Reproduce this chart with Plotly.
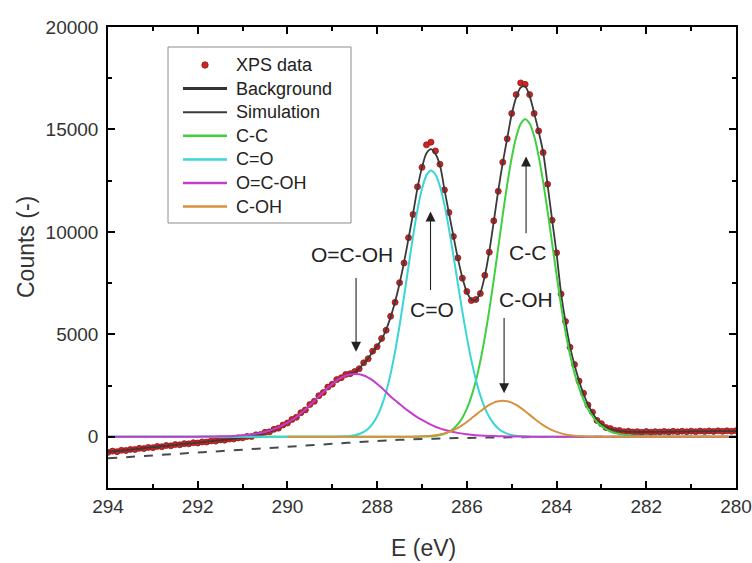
import numpy as np
import plotly.graph_objects as go

# ---------------- data ----------------
E_START, E_STEP = 294.0, 0.1

xps_data = [
    -760, -700, -725, -660, -670, -615, -620, -565, -575, -520,
    -530, -470, -485, -425, -440, -380, -390, -335, -345, -290,
    -305, -250, -258, -200, -212, -152, -165, -110, -108, -55,
    -52, 15, 10, 95, 110, 215, 240, 365, 420, 575,
    670, 845, 950, 1175, 1310, 1575, 1730, 2005, 2160, 2425,
    2565, 2790, 2880, 3045, 3080, 3185, 3320, 3610, 3810, 4180,
    4400, 4800, 5200, 5880, 6560, 7520, 8480, 9720, 10850, 12200,
    13150, 14250, 14380, 13950, 13300, 12050, 10950, 9780, 8730, 7740,
    7090, 6650, 6700, 6990, 7880, 9010, 10540, 11980, 13400, 14540,
    15780, 16700, 17270, 17200, 16700, 15780, 14930, 13870, 12330, 10570,
    8980, 6970, 5630, 4370, 3530, 2720, 2130, 1550, 1200, 800,
    640, 450, 400, 310, 310, 250, 270, 230, 250, 220,
    255, 225, 250, 230, 260, 235, 265, 240, 270, 245,
    275, 250, 280, 255, 285, 260, 290, 265, 290, 270,
    295,
]

simulation = [
    -740, -717, -694, -671, -648, -625, -602, -579, -556, -533,
    -510, -486, -463, -440, -416, -393, -371, -350, -329, -307,
    -284, -262, -240, -217, -193, -169, -147, -124, -99, -71,
    -40, -8, 29, 71, 123, 185, 252, 334, 431, 548,
    685, 812, 955, 1137, 1329, 1540, 1755, 1970, 2185, 2395,
    2582, 2755, 2896, 3011, 3091, 3146, 3336, 3577, 3832, 4140,
    4430, 4755, 5225, 5840, 6590, 7480, 8522, 9684, 10879, 12146,
    13148, 13837, 14038, 13800, 13250, 12076, 10923, 9802, 8705, 7767,
    7068, 6691, 6670, 7019, 7850, 9045, 10506, 12011, 13365, 14575,
    15738, 16565, 17048, 17097, 16624, 15810, 14900, 13900, 12300, 10600,
    8950, 7000, 5600, 4400, 3500, 2750, 2100, 1580, 1170, 830,
    612, 475, 380, 325, 290, 260, 245, 235, 232, 232,
    235, 235, 235, 237, 241, 246, 246, 249, 251, 255,
    260, 262, 264, 266, 268, 270, 272, 274, 276, 278,
    280,
]

bg_E = [294, 293, 292, 291, 290, 289, 288, 287.5, 287, 286.5, 286, 285.5, 285, 284.5, 284, 283, 282, 280]
bg_y = [-1050, -910, -770, -630, -490, -345, -205, -150, -110, -80, -55, -38, -25, -15, -8, -2, 0, 0]

# C-C component: starts at 287.3 eV, 0.1 eV steps
cc_start = 287.3
cc_y = [0, 2, 4, 8, 15, 28, 50, 87, 148, 245, 394, 616, 930, 1370, 1960, 2720, 3690, 4840,
        6190, 7670, 9240, 10830, 12320, 13620, 14630, 15280, 15500, 15290, 14680, 13700,
        12450, 11000, 9450, 7900, 6400, 5100, 4000, 3100, 2400, 1820, 1350, 1000, 720, 520,
        370, 260, 190, 140, 100, 75, 55, 42, 32, 25, 20, 15, 12, 9, 6, 4, 3, 1, 0]

# C=O component: starts at 289.1 eV
co_start = 289.1
co_y = [0, 2, 5, 11, 21, 41, 76, 136, 237, 397, 640, 1000, 1510, 2190, 3070, 4160, 5430,
        6850, 8330, 9780, 11080, 12100, 12770, 13000, 12800, 12220, 11320, 10160, 8850,
        7460, 6110, 4850, 3740, 2800, 2020, 1410, 960, 636, 408, 252, 152, 88, 50, 28, 15,
        8, 4, 2, 0]

# C-OH component: starts at 287.5 eV
coh_start = 287.5
coh_y = [0, 2, 4, 7, 12, 20, 32, 50, 77, 116, 168, 238, 328, 439, 572, 723, 891, 1070, 1244,
         1410, 1553, 1665, 1735, 1760, 1735, 1665, 1553, 1410, 1244, 1070, 891, 723, 572, 439,
         328, 238, 168, 116, 77, 50, 32, 20, 12, 7, 4, 2, 0]

# O=C-OH component
ocoh_E = [294.0, 293.0, 292.5, 292.0, 291.8, 291.6, 291.4, 291.2, 291.0, 290.8, 290.6, 290.4,
          290.2, 290.0, 289.9, 289.8, 289.7, 289.6, 289.5, 289.4, 289.3, 289.2, 289.1, 289.0,
          288.9, 288.8, 288.7, 288.6, 288.5, 288.4, 288.3, 288.2, 288.1, 288.0, 287.9, 287.8,
          287.7, 287.6, 287.5, 287.4, 287.3, 287.2, 287.1, 287.0, 286.9, 286.8, 286.7, 286.6,
          286.5, 286.4, 286.2, 286.0, 285.8, 285.6, 285.4, 285.2, 285.0, 284.8, 284.6, 284.4,
          284.0, 283.8, 280.0]
ocoh_y = [0, 0, 2, 6, 10, 17, 27, 43, 70, 115, 185, 295, 460, 690, 820, 960, 1140, 1330, 1540,
          1755, 1970, 2185, 2395, 2580, 2750, 2885, 2990, 3050, 3070, 3050, 2990, 2885, 2750,
          2580, 2395, 2185, 1970, 1780, 1600, 1420, 1250, 1090, 950, 820, 700, 590, 490, 410,
          340, 280, 190, 125, 80, 52, 35, 23, 15, 10, 6, 4, 2, 0, 0]

x_ticks = [294, 292, 290, 288, 286, 284, 282, 280]
y_ticks = [0, 5000, 10000, 15000, 20000]
legend_names = ["XPS data", "Background", "Simulation", "C-C", "C=O", "O=C-OH", "C-OH"]


def grid(start, n):
    return list(np.round(start - E_STEP * np.arange(n), 1))


def padded(start, vals, left=294.0):
    return [left] + grid(start, len(vals)) + [280.0], [0] + vals + [0]


energy = grid(E_START, len(xps_data))

FONT = "Liberation Sans, Arial, sans-serif"
C_DATA, C_DATA_EDGE = "#cf2424", "#8e1818"
C_CC, C_CO, C_OCOH, C_COH = "#3fcf3f", "#3ad6d6", "#c63ccf", "#d9913c"
C_BG, C_SIM = "#333333", "#3a3a3a"

# plot area in pixels (for legend placement)
W, H = 752, 563
ML, MR, MT, MB = 108, 16, 27, 75
PW, PH = W - ML - MR, H - MT - MB


def px(xp):
    return (xp - ML) / PW


def py(yp):
    return (H - MB - yp) / PH


fig = go.Figure()
fig.add_trace(go.Scatter(x=energy, y=xps_data, mode="markers", name="XPS data",
                         marker=dict(size=6, color=C_DATA, line=dict(color=C_DATA_EDGE, width=0.8))))
fig.add_trace(go.Scatter(x=bg_E, y=bg_y, mode="lines", name="Background",
                         line=dict(color="#4a4a4a", width=2, dash="dash", shape="spline")))
fig.add_trace(go.Scatter(x=energy, y=simulation, mode="lines", name="Simulation",
                         line=dict(color=C_SIM, width=1.8, shape="spline", smoothing=0.8)))
for nm, (xx, yy), col in [
    ("C-C", padded(cc_start, cc_y), C_CC),
    ("C=O", padded(co_start, co_y), C_CO),
    ("O=C-OH", (ocoh_E, ocoh_y), C_OCOH),
    ("C-OH", padded(coh_start, coh_y, left=290.0), C_COH),
]:
    fig.add_trace(go.Scatter(x=xx, y=yy, mode="lines", name=nm,
                             line=dict(color=col, width=2, shape="spline", smoothing=0.8)))

# peak labels and arrows
labels = [("O=C-OH", 288.56, 8880), ("C=O", 286.77, 6200), ("C-C", 284.65, 8980), ("C-OH", 284.68, 6690)]
arrows = [(288.47, 4150, 7820), (286.81, 10990, 7090), (284.68, 13680, 9860), (285.17, 2130, 5870)]
ann = []
for t, x, y in labels:
    ann.append(dict(x=x, y=y, xref="x", yref="y", text=t, showarrow=False,
                    font=dict(family=FONT, size=21, color="#222")))
for x, tip, tail in arrows:
    ann.append(dict(x=x, y=tip, ax=x, ay=tail, xref="x", yref="y", axref="x", ayref="y",
                    text="", showarrow=True, arrowhead=2, arrowsize=1.8, arrowwidth=1.1,
                    arrowcolor="#222", standoff=0, startstandoff=0))

# axis titles
ann.append(dict(x=px(423), y=py(548), xref="paper", yref="paper", text="E (eV)", showarrow=False,
                xanchor="center", yanchor="middle", font=dict(family=FONT, size=23, color="#333")))
ann.append(dict(x=px(26), y=py(247), xref="paper", yref="paper", text="Counts (-)", showarrow=False,
                xanchor="center", yanchor="middle", textangle=-90,
                font=dict(family=FONT, size=23, color="#333")))

# hand-drawn legend (box, glyphs, texts)
shapes = [dict(type="rect", xref="paper", yref="paper", x0=px(168), x1=px(351), y0=py(223), y1=py(47),
               line=dict(color="#8c8c8c", width=1), fillcolor="white", layer="above")]
row_y = [65 + 23.6 * i for i in range(len(legend_names))]
glyph = {
    "Background": (C_BG, 3), "Simulation": (C_SIM, 2), "C-C": (C_CC, 2.5),
    "C=O": (C_CO, 2.5), "O=C-OH": (C_OCOH, 2.5), "C-OH": (C_COH, 2.5),
}
for nm, yy in zip(legend_names, row_y):
    if nm == "XPS data":
        shapes.append(dict(type="circle", xref="paper", yref="paper",
                           x0=px(205 - 3.2), x1=px(205 + 3.2), y0=py(yy + 3.2), y1=py(yy - 3.2),
                           fillcolor=C_DATA, line=dict(color=C_DATA_EDGE, width=0.8), layer="above"))
    else:
        col, wd = glyph[nm]
        shapes.append(dict(type="line", xref="paper", yref="paper", x0=px(183), x1=px(227),
                           y0=py(yy), y1=py(yy), line=dict(color=col, width=wd), layer="above"))
    ann.append(dict(x=px(234), y=py(yy), xref="paper", yref="paper", xanchor="left", yanchor="middle",
                    text=nm, showarrow=False, font=dict(family=FONT, size=18, color="#222")))

axis_common = dict(showline=True, linecolor="black", linewidth=1.5, mirror="allticks",
                   ticks="inside", ticklen=7, tickwidth=1.5, tickcolor="black",
                   showgrid=False, zeroline=False, automargin=False,
                   tickfont=dict(family=FONT, size=19, color="#333"))

fig.update_layout(
    width=W, height=H,
    margin=dict(l=ML, r=MR, t=MT, b=MB),
    paper_bgcolor="white", plot_bgcolor="white",
    font=dict(family=FONT),
    showlegend=False,
    annotations=ann,
    shapes=shapes,
)
fig.update_xaxes(range=[294, 280], tickvals=x_ticks, tickformat="d",
                 minor=dict(dtick=1, ticklen=4, ticks="inside", tickwidth=1.5, tickcolor="black"),
                 **axis_common)
fig.update_yaxes(range=[-2500, 20000], tickvals=y_ticks, tickformat="d", ticklabelstandoff=4,
                 minor=dict(dtick=2500, ticklen=4, ticks="inside", tickwidth=1.5, tickcolor="black"),
                 **axis_common)

fig.write_html("out.html")
